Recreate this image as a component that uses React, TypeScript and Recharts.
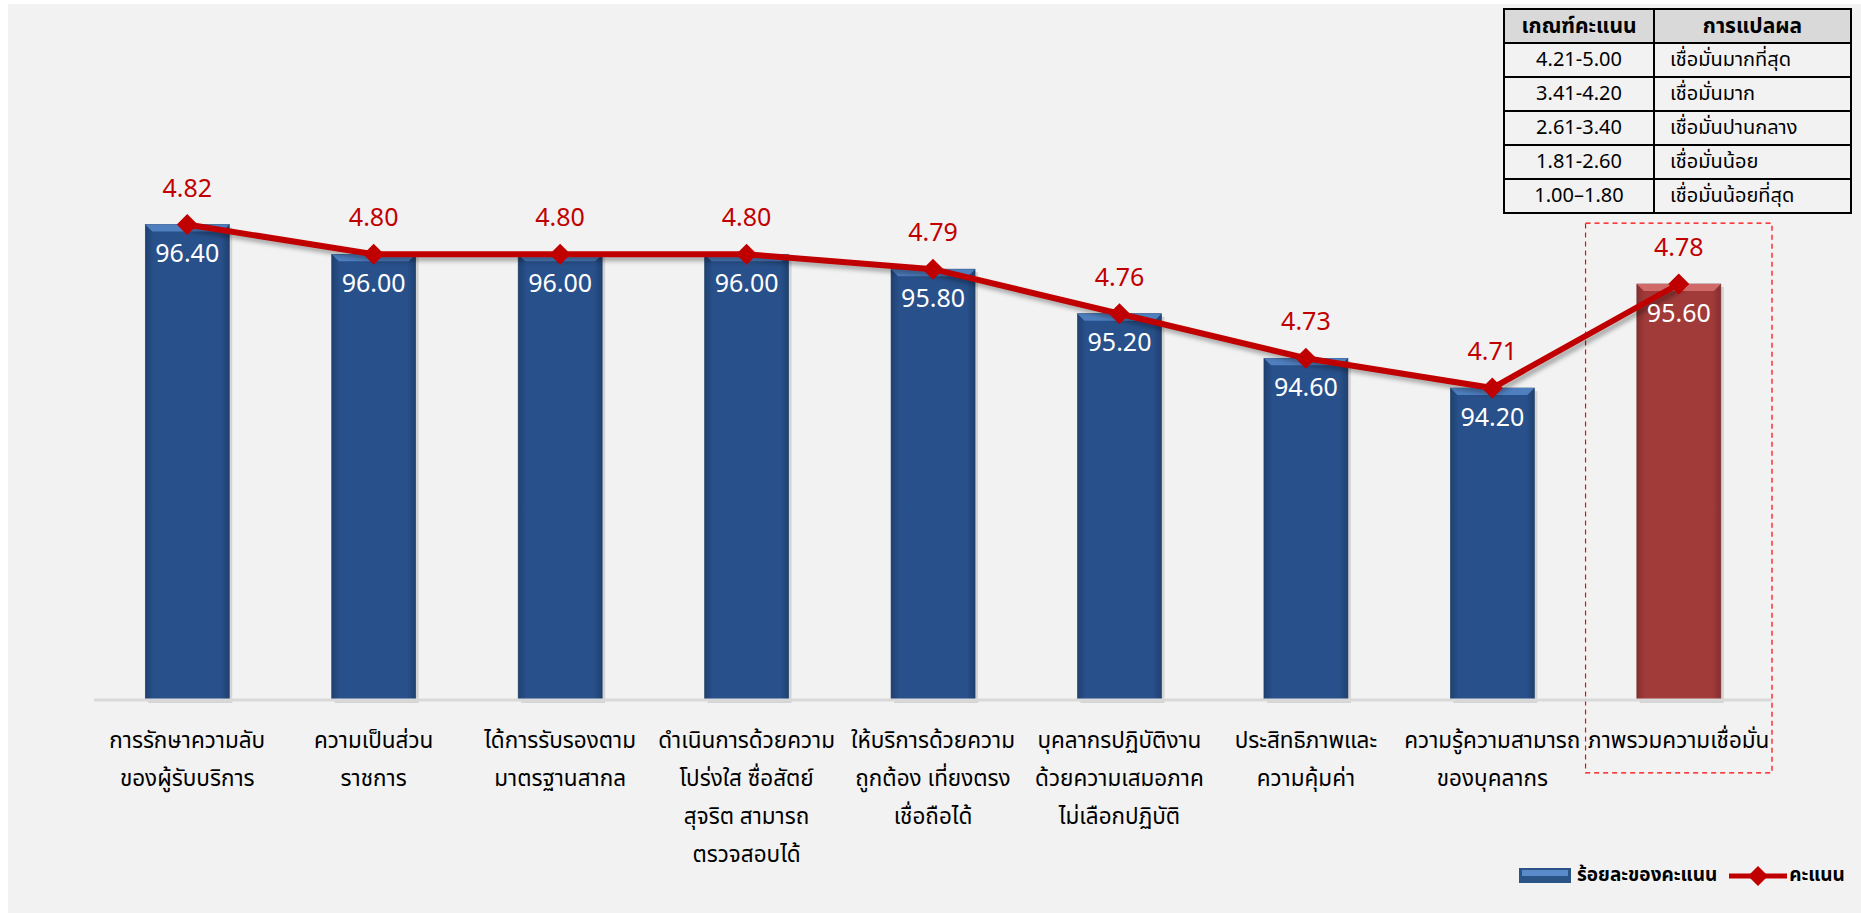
import React from 'react';
import { ComposedChart, Bar, Line, XAxis, YAxis, Cell, LabelList, ReferenceArea } from 'recharts';

const categories = [
  'การรักษาความลับ\nของผู้รับบริการ',
  'ความเป็นส่วน\nราชการ',
  'ได้การรับรองตาม\nมาตรฐานสากล',
  'ดำเนินการด้วยความ\nโปร่งใส ซื่อสัตย์\nสุจริต สามารถ\nตรวจสอบได้',
  'ให้บริการด้วยความ\nถูกต้อง เที่ยงตรง\nเชื่อถือได้',
  'บุคลากรปฏิบัติงาน\nด้วยความเสมอภาค\nไม่เลือกปฏิบัติ',
  'ประสิทธิภาพและ\nความคุ้มค่า',
  'ความรู้ความสามารถ\nของบุคลากร',
  'ภาพรวมความเชื่อมั่น',
];
const percents = [96.4, 96.0, 96.0, 96.0, 95.8, 95.2, 94.6, 94.2, 95.6];
const scores = [4.82, 4.8, 4.8, 4.8, 4.79, 4.76, 4.73, 4.71, 4.78];

const criteriaRanges = ['4.21-5.00', '3.41-4.20', '2.61-3.40', '1.81-2.60', '1.00–1.80'];
const criteriaMeanings = ['เชื่อมั่นมากที่สุด', 'เชื่อมั่นมาก', 'เชื่อมั่นปานกลาง', 'เชื่อมั่นน้อย', 'เชื่อมั่นน้อยที่สุด'];

const barName = 'ร้อยละของคะแนน';
const lineName = 'คะแนน';

const data = categories.map((name, i) => ({ name, percent: percents[i], score: scores[i] }));
const overall = categories[categories.length - 1];

const FONT = "Tahoma, 'Noto Sans Thai', 'Noto Sans', sans-serif";
const RED = '#c00000';

const BevelBar = (props: any) => {
  const { x, y, width, height, fill } = props;
  if (!height || height <= 0) return null;
  const isRed = fill === 'red';
  const grad = isRed ? 'url(#redGrad)' : 'url(#blueGrad)';
  const top = isRed ? '#d06a68' : '#4f7fbf';
  const b = 7;
  return (
    <g>
      <rect x={x + 3} y={y + 3} width={width} height={height} fill="rgba(0,0,0,0.12)" />
      <rect x={x} y={y} width={width} height={height} fill={grad} stroke={isRed ? '#7a2a29' : '#1d3d66'} strokeWidth={0.6} />
      <polygon points={`${x},${y} ${x + width},${y} ${x + width - b},${y + b} ${x + b},${y + b}`} fill={top} />
    </g>
  );
};

const Diamond = (props: any) => {
  const { cx, cy, index } = props;
  const s = 10.5;
  return (
    <polygon key={`d-${index}`} points={`${cx},${cy - s} ${cx + s},${cy} ${cx},${cy + s} ${cx - s},${cy}`} fill={RED} />
  );
};

const CategoryTick = (props: any) => {
  const { x, y, payload } = props;
  const lines = String(payload.value).split('\n');
  return (
    <text x={x} y={y} textAnchor="middle" fontFamily={FONT} fontSize={22.5} fill="#000">
      {lines.map((l, i) => (
        <tspan key={i} x={x} dy={i === 0 ? 40 : 38}>{l}</tspan>
      ))}
    </text>
  );
};

const ChartLegend = () => (
  <div style={{ position: 'absolute', left: 1519, top: 861, display: 'flex', alignItems: 'center', fontFamily: FONT, fontSize: 19, fontWeight: 'bold', color: '#000' }}>
    <svg width={54} height={16} style={{ marginRight: 4 }}>
      <rect x={0} y={0} width={52} height={15} fill="#2a5386" />
      <rect x={3} y={2} width={46} height={6} fill="#5b8acb" />
    </svg>
    <span style={{ marginRight: 12 }}>{barName}</span>
    <svg width={58} height={22} style={{ marginRight: 2 }}>
      <line x1={0} y1={11} x2={58} y2={11} stroke={RED} strokeWidth={5} />
      <polygon points="29,1 39,11 29,21 19,11" fill={RED} />
    </svg>
    <span>{lineName}</span>
  </div>
);

const cellStyle: React.CSSProperties = { border: '2px solid #000', height: 32, padding: 0 };

export default function App() {
  return (
    <div style={{ position: 'absolute', left: 0, top: 0, width: 1861, height: 913 }}>
      <style>{`.score-line { filter: drop-shadow(3px 4px 2px rgba(0,0,0,0.3)); }`}</style>
      <div style={{ position: 'absolute', left: 8, top: 4, width: 1853, height: 909, background: '#f2f2f2' }} />
      <div style={{ position: 'absolute', left: 0, top: 0 }}>
        <ComposedChart width={1861} height={913} data={data} margin={{ top: 180, right: 89, bottom: 13, left: 94 }} barCategoryGap="27.5%">
          <defs>
            <linearGradient id="blueGrad" x1="0" y1="0" x2="1" y2="0">
              <stop offset="0%" stopColor="#1f4170" />
              <stop offset="10%" stopColor="#28508a" />
              <stop offset="90%" stopColor="#28508a" />
              <stop offset="100%" stopColor="#1f4170" />
            </linearGradient>
            <linearGradient id="redGrad" x1="0" y1="0" x2="1" y2="0">
              <stop offset="0%" stopColor="#83302f" />
              <stop offset="10%" stopColor="#a03b3a" />
              <stop offset="90%" stopColor="#a03b3a" />
              <stop offset="100%" stopColor="#83302f" />
            </linearGradient>
          </defs>
          <XAxis dataKey="name" height={200} interval={0} tickLine={false} axisLine={{ stroke: '#d9d9d9', strokeWidth: 3 }} tick={<CategoryTick />} />
          <YAxis yAxisId="pct" domain={[90, 97]} hide />
          <YAxis yAxisId="score" orientation="right" domain={[4.5, 4.85]} hide />
          <ReferenceArea yAxisId="pct" x1={overall} x2={overall} y1={89.02} y2={96.42} ifOverflow="visible" fill="none" stroke="#ff0000" strokeDasharray="5 4" strokeWidth={1.2} />
          <Bar yAxisId="pct" dataKey="percent" name={barName} shape={<BevelBar />} isAnimationActive={false}>
            {data.map((d, i) => (
              <Cell key={i} fill={i === data.length - 1 ? 'red' : 'blue'} />
            ))}
            <LabelList dataKey="percent" position="insideTop" offset={20} fill="#fff" fontFamily={FONT} fontSize={25} formatter={(v: any) => Number(v).toFixed(2)} />
          </Bar>
          <Line yAxisId="score" dataKey="score" name={lineName} className="score-line" stroke={RED} strokeWidth={6} dot={<Diamond />} activeDot={false} isAnimationActive={false}>
            <LabelList dataKey="score" position="top" offset={28} fill={RED} fontFamily={FONT} fontSize={25} formatter={(v: any) => Number(v).toFixed(2)} />
          </Line>
        </ComposedChart>
      </div>
      <ChartLegend />
      <table style={{ position: 'absolute', left: 1503, top: 8, width: 349, borderCollapse: 'collapse', fontFamily: FONT, fontSize: 20, background: '#f2f2f2' }}>
        <thead>
          <tr style={{ background: '#d9d9d9', fontSize: 21 }}>
            <th style={{ ...cellStyle, width: 148 }}>เกณฑ์คะแนน</th>
            <th style={cellStyle}>การแปลผล</th>
          </tr>
        </thead>
        <tbody>
          {criteriaRanges.map((r, i) => (
            <tr key={i}>
              <td style={{ ...cellStyle, textAlign: 'center' }}>{r}</td>
              <td style={{ ...cellStyle, paddingLeft: 15 }}>{criteriaMeanings[i]}</td>
            </tr>
          ))}
        </tbody>
      </table>
    </div>
  );
}
